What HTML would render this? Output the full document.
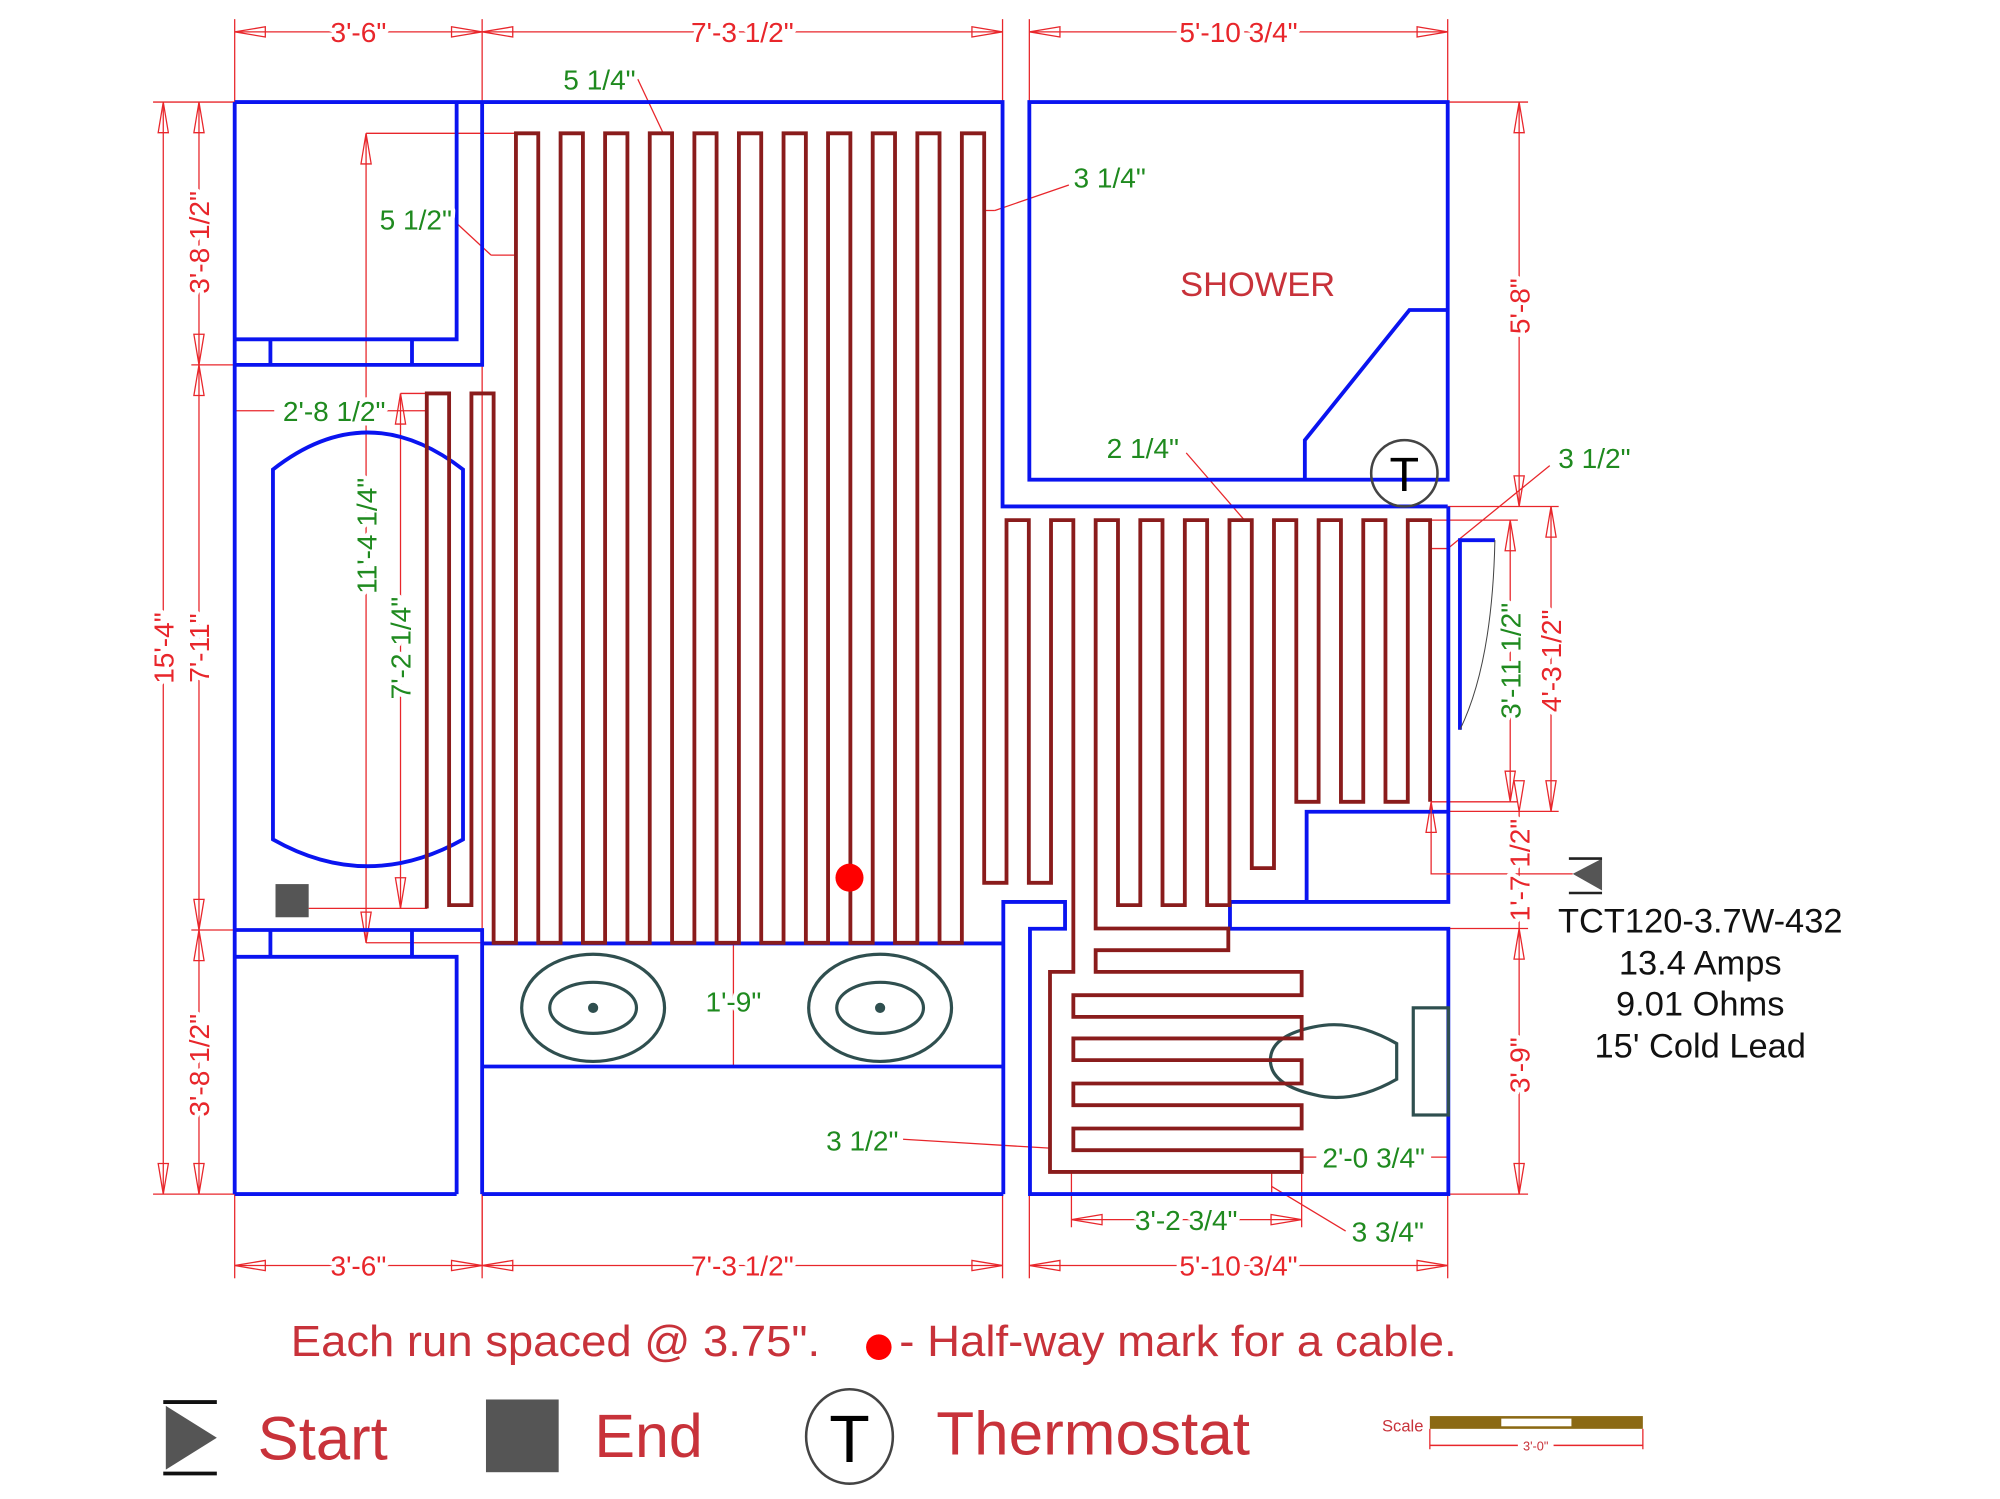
<!DOCTYPE html>
<html><head><meta charset="utf-8"><style>
html,body{margin:0;padding:0;background:#fff;}
svg{display:block;}
text{font-family:"Liberation Sans",Arial,sans-serif;}
.h{paint-order:stroke;stroke:#fff;stroke-width:7px;stroke-linejoin:round;}
</style></head><body>
<svg id="s" xmlns="http://www.w3.org/2000/svg" width="2000" height="1499" viewBox="0 0 1568 1175" preserveAspectRatio="none">
<rect width="1568" height="1175" fill="#fff"/>
<g id="dims" stroke="#e8262b" stroke-width="1" fill="none"></g>
<!-- blue walls -->
<g stroke="#0a14f0" stroke-width="3" fill="none">
<polyline points="184,80 786,80 786,397 1135,397"/>
<line x1="184" y1="80" x2="184" y2="936"/>
<rect x="807" y="80" width="328" height="296"/>
<polyline points="1135,243 1105,243 1023,345 1023,376"/>
<polyline points="184,266 358,266 358,80"/>
<polyline points="378,80 378,286 184,286"/>
<line x1="212" y1="266" x2="212" y2="286"/><line x1="323" y1="266" x2="323" y2="286"/>
<polyline points="184,729 378,729 378,936"/>
<polyline points="184,750 358,750 358,936"/>
<line x1="212" y1="729" x2="212" y2="750"/><line x1="323" y1="729" x2="323" y2="750"/>
<line x1="378" y1="739.5" x2="786.6" y2="739.5"/>
<line x1="378" y1="836" x2="786.6" y2="836"/>
<line x1="184" y1="936" x2="358" y2="936"/>
<line x1="378" y1="936" x2="786.6" y2="936"/>
<polyline points="786.6,936 786.6,707 835,707 835,728 807.5,728 807.5,936 1135.5,936 1135.5,728 964.3,728 964.3,707 1135.5,707 1135.5,397"/>
<polyline points="1024.4,707 1024.4,636.3 1135.5,636.3"/>
<path d="M214,368 Q288,310 363,368 L363,658 Q288,700 214,658 Z"/>
<polyline points="1144.6,572 1144.6,423.4 1172,423.4"/>
</g>
<path d="M1172,423.4 Q1170,520 1144.6,572" stroke="#444" stroke-width="0.8" fill="none"/>
<!-- fixtures -->
<g stroke="#2f4f4f" stroke-width="2.5" fill="none">
<ellipse cx="465" cy="790" rx="56" ry="42"/><ellipse cx="465" cy="790" rx="34" ry="20"/>
<ellipse cx="690" cy="790" rx="56" ry="42"/><ellipse cx="690" cy="790" rx="34" ry="20"/>
<rect x="1108" y="790" width="27.5" height="84"/>
<path d="M1095,818 L1095,846 Q1060,866 1030,858 Q996,850 996,831 Q996,812 1030,805 Q1060,798 1095,818 Z"/>
</g>
<circle cx="465" cy="790" r="4" fill="#2f4f4f"/><circle cx="690" cy="790" r="4" fill="#2f4f4f"/>
<path id="cable" stroke="#8a1c1c" stroke-width="3" fill="none"/>
<!-- start/end markers on plan -->
<rect x="216" y="693" width="26" height="26" fill="#555"/>
<polyline points="1122,628 1122,685 1233,685" stroke="#e8262b" stroke-width="1" fill="none"/>
<polygon points="1233,685 1256,673 1256,698" fill="#555"/>
<line x1="1230" y1="673" x2="1256" y2="673" stroke="#222" stroke-width="2"/>
<line x1="1230" y1="700" x2="1256" y2="700" stroke="#222" stroke-width="2"/>
<circle cx="1101" cy="371" r="26" fill="none" stroke="#444" stroke-width="2"/>
<text x="1101" y="385" font-size="38" text-anchor="middle" fill="#000">T</text>
<circle cx="666" cy="688" r="11" fill="#f00"/>
<g font-size="22" fill="#1f8a1f" class="h">
<text x="470" y="70" text-anchor="middle">5 1/4"</text>
<text x="870" y="147" text-anchor="middle">3 1/4"</text>
<text x="326" y="180" text-anchor="middle">5 1/2"</text>
<text x="262" y="330" text-anchor="middle">2'-8 1/2"</text>
<text x="896" y="359" text-anchor="middle">2 1/4"</text>
<text x="1250" y="367" text-anchor="middle">3 1/2"</text>
<text x="575" y="793" text-anchor="middle">1'-9"</text>
<text x="676" y="902" text-anchor="middle">3 1/2"</text>
<text x="1077" y="915" text-anchor="middle">2'-0 3/4"</text>
<text x="930" y="964" text-anchor="middle">3'-2 3/4"</text>
<text x="1088" y="973" text-anchor="middle">3 3/4"</text>
<text transform="translate(295,420) rotate(-90)" text-anchor="middle">11'-4 1/4"</text>
<text transform="translate(322,508) rotate(-90)" text-anchor="middle">7'-2 1/4"</text>
<text transform="translate(1192,518) rotate(-90)" text-anchor="middle">3'-11 1/2"</text>
</g>
<g font-size="22" fill="#e8262b" class="h">
<text x="281" y="33" text-anchor="middle">3'-6"</text>
<text x="582" y="33" text-anchor="middle">7'-3 1/2"</text>
<text x="971" y="33" text-anchor="middle">5'-10 3/4"</text>
<text x="281" y="1000" text-anchor="middle">3'-6"</text>
<text x="582" y="1000" text-anchor="middle">7'-3 1/2"</text>
<text x="971" y="1000" text-anchor="middle">5'-10 3/4"</text>
<text transform="translate(136,508) rotate(-90)" text-anchor="middle">15'-4"</text>
<text transform="translate(164,190) rotate(-90)" text-anchor="middle">3'-8 1/2"</text>
<text transform="translate(164,508) rotate(-90)" text-anchor="middle">7'-11"</text>
<text transform="translate(164,835) rotate(-90)" text-anchor="middle">3'-8 1/2"</text>
<text transform="translate(1199,240) rotate(-90)" text-anchor="middle">5'-8"</text>
<text transform="translate(1224,518) rotate(-90)" text-anchor="middle">4'-3 1/2"</text>
<text transform="translate(1199,682) rotate(-90)" text-anchor="middle">1'-7 1/2"</text>
<text transform="translate(1199,835) rotate(-90)" text-anchor="middle">3'-9"</text>
</g>
<text x="986" y="232" font-size="27" fill="#c8323a" text-anchor="middle">SHOWER</text>
<g font-size="27" fill="#111" text-anchor="middle">
<text x="1333" y="731">TCT120-3.7W-432</text>
<text x="1333" y="764">13.4 Amps</text>
<text x="1333" y="796">9.01 Ohms</text>
<text x="1333" y="829">15' Cold Lead</text>
</g>
<!-- legend -->
<text x="228" y="1063" font-size="34" fill="#c8323a" textLength="415" lengthAdjust="spacingAndGlyphs">Each run spaced @ 3.75".</text>
<circle cx="689" cy="1056" r="10" fill="#f00"/>
<text x="705" y="1063" font-size="34" fill="#c8323a" textLength="437" lengthAdjust="spacingAndGlyphs">- Half-way mark for a cable.</text>
<line x1="128" y1="1099" x2="170" y2="1099" stroke="#111" stroke-width="3"/>
<line x1="128" y1="1155" x2="170" y2="1155" stroke="#111" stroke-width="3"/>
<polygon points="130,1102 170,1127 130,1152" fill="#555"/>
<text x="202" y="1144" font-size="48" fill="#c8323a" textLength="102" lengthAdjust="spacingAndGlyphs">Start</text>
<rect x="381" y="1097" width="57" height="57" fill="#555"/>
<text x="466" y="1142" font-size="48" fill="#c8323a" textLength="85" lengthAdjust="spacingAndGlyphs">End</text>
<ellipse cx="666" cy="1126" rx="34" ry="37" fill="none" stroke="#444" stroke-width="2"/>
<text x="666" y="1146" font-size="52" fill="#000" text-anchor="middle">T</text>
<text x="734" y="1140" font-size="48" fill="#c8323a" textLength="246" lengthAdjust="spacingAndGlyphs">Thermostat</text>
<text x="1116" y="1122" font-size="13" fill="#c8323a" text-anchor="end">Scale</text>
<rect x="1121" y="1110" width="167" height="10" fill="#8b6914"/>
<rect x="1177" y="1112" width="55" height="6" fill="#fff"/>
<line x1="1121" y1="1133" x2="1288" y2="1133" stroke="#e8262b" stroke-width="1.2"/>
<line x1="1121" y1="1120" x2="1121" y2="1136" stroke="#e8262b"/><line x1="1288" y1="1120" x2="1288" y2="1136" stroke="#e8262b"/>
<rect x="1190" y="1127" width="28" height="10" fill="#fff"/>
<text x="1204" y="1137" font-size="10" fill="#c8323a" text-anchor="middle">3'-0"</text>
<script>
(function(){
var NS="http://www.w3.org/2000/svg";
function X(i){return 334.6+17.48*i;}
function T(i){return i<4?308.4:(i<26?104.5:407.7);}
var B={1:709.5,25:692,27:692,31:709.5,33:709.5,35:709.5,37:680.5,39:628.5,41:628.5,43:628.5};
for(var k=3;k<=23;k+=2)B[k]=739;
var p=[[X(0),712]];
for(var i=0;i<=45;i++){
 if(i%2==0){p.push([X(i),T(i)]);p.push([X(i+1),T(i+1)]);}
 else if(i==45){p.push([X(45),628.5]);}
 else if(i==29){var a=X(29),b=X(30),r=1020.5;
  p.push([a,761.8],[823.2,761.8],[823.2,918.6],[r,918.6],[r,901.6],[a,901.6],[a,884.6],[r,884.6],[r,866.3],[a,866.3],[a,849.3],[r,849.3],[r,831],[a,831],[a,814],[r,814],[r,797.1],[a,797.1],[a,780.1],[r,780.1],[r,761.8],[b,761.8],[b,744.8],[963,744.8],[963,727.8],[b,727.8]);}
 else {p.push([X(i),B[i]]);p.push([X(i+1),B[i]]);}
}
document.getElementById('cable').setAttribute('d','M'+p.map(function(q){return q[0].toFixed(1)+','+q[1].toFixed(1)}).join(' L'));
var g=document.getElementById('dims');
function L(x1,y1,x2,y2){var e=document.createElementNS(NS,'line');e.setAttribute('x1',x1);e.setAttribute('y1',y1);e.setAttribute('x2',x2);e.setAttribute('y2',y2);g.appendChild(e);}
function A(x,y,dx,dy){var l=24,w=4;var bx=x+dx*l,by=y+dy*l;var e=document.createElementNS(NS,'polygon');
 e.setAttribute('points',x+','+y+' '+(bx-dy*w)+','+(by-dx*w)+' '+(bx+dy*w)+','+(by+dx*w));g.appendChild(e);}
function H(x1,x2,y){L(x1,y,x2,y);A(x1,y,1,0);A(x2,y,-1,0);}
function V(x,y1,y2){L(x,y1,x,y2);A(x,y1,0,1);A(x,y2,0,-1);}
H(184,378,25);H(378,786,25);H(807,1135,25);
[184,378,786,807,1135].forEach(function(x){L(x,15,x,80);});
H(184,378,992);H(378,786,992);H(807,1135,992);
[184,378,786,807,1135].forEach(function(x){L(x,936,x,1002);});
L(378,80,378,992);
V(128,80,936);V(156,80,286);V(156,286,729);V(156,729,936);
L(120,80,184,80);L(120,936,184,936);L(150,286,184,286);L(150,729,184,729);
V(1191,80,397);L(1135,80,1198,80);L(1135,397,1222,397);
V(1216,397,636);L(1135,636,1222,636);
V(1184,407.7,628.5);L(1122,407.7,1190,407.7);L(1122,628.5,1190,628.5);
L(1191,636,1191,727.8);A(1191,636,0,-1);
V(1191,727.8,936);L(1135,727.8,1198,727.8);L(1135,936,1198,936);
A(1122,628.5,0,1);
V(287,104.5,739);L(287,104.5,405,104.5);L(242,712,335,712);
V(314,308.4,712);L(314,308.4,335,308.4);L(287,739,378,739);
L(184,322,215,322);L(300,322,335,322);
L(575,739.5,575,836);
H(840,1020.5,956);L(840,918,840,962);L(1020.5,918,1020.5,962);
L(1020.5,907,1032,907);L(1122,907,1135.5,907);
L(997,930,1055,965);L(997,918,997,936);
L(708,893,823,900);
L(500,62,520,104.5);L(838,145,780,165);L(772,165,780,165);
L(358,175,385,200);L(385,200,405,200);
L(930,355,975,407);
L(1215,365,1135,430);L(1122,430,1135,430);
})();
</script>
</svg>
</body></html>
